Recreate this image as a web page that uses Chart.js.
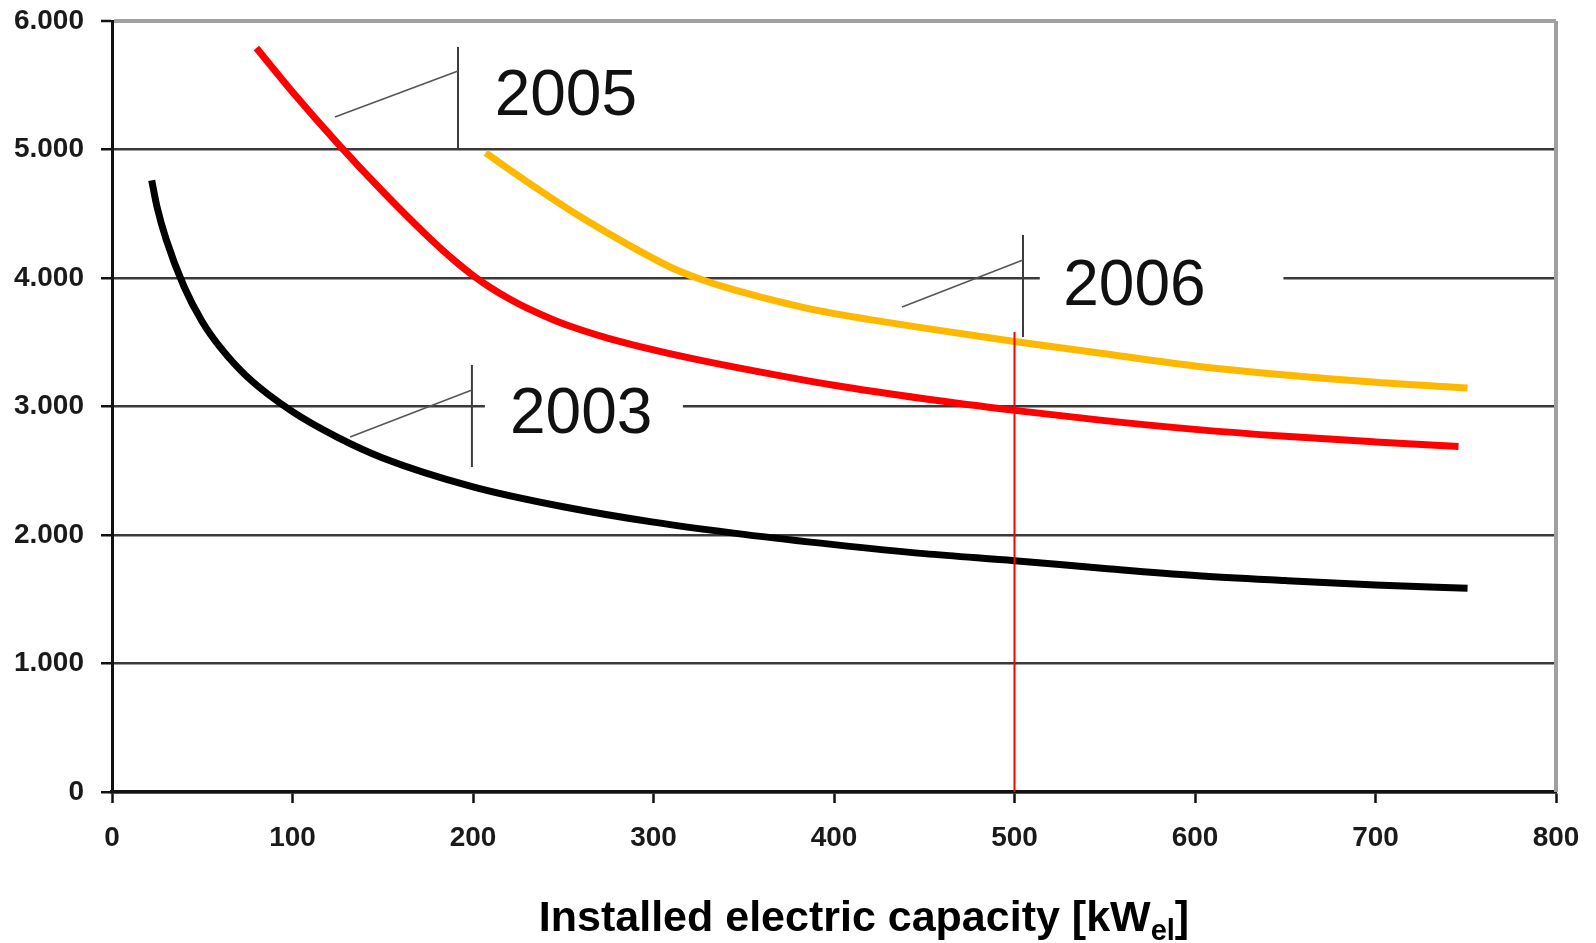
<!DOCTYPE html>
<html>
<head>
<meta charset="utf-8">
<script src="https://cdn.jsdelivr.net/npm/chart.js@4.4.1/dist/chart.umd.min.js"></script>
<style>
  html, body { margin: 0; padding: 0; background: #fff; }
  canvas { display: block; }
</style>
</head>
<body>
<canvas id="chart" width="1596" height="943"></canvas>
<script>
'use strict';

//*****DATA******/

let xTickLabels = ['0', '100', '200', '300', '400', '500', '600', '700', '800'];
let yTickLabels = ['0', '1.000', '2.000', '3.000', '4.000', '5.000', '6.000'];

let capacity2003 = [22, 25, 30, 40, 50, 60, 75, 100, 125, 150, 200, 250, 300, 350, 400, 450, 500, 550, 600, 650, 700, 751];
let cost2003 = [4760, 4550, 4300, 3930, 3660, 3460, 3230, 2960, 2760, 2600, 2375, 2220, 2100, 2005, 1925, 1855, 1800, 1740, 1685, 1645, 1610, 1585];

let capacity2005 = [80, 100, 125, 150, 175, 190, 200, 210, 220, 230, 245, 260, 275, 300, 325, 350, 400, 450, 500, 550, 600, 650, 700, 746];
let cost2005 = [5790, 5448, 5048, 4673, 4323, 4132, 4020, 3922, 3838, 3765, 3672, 3595, 3531, 3441, 3363, 3293, 3165, 3060, 2970, 2890, 2822, 2768, 2724, 2688];

let capacity2006 = [207, 230, 260, 290, 310, 325, 340, 360, 390, 420, 450, 500, 550, 600, 650, 700, 751];
let cost2006 = [4973, 4748, 4472, 4227, 4080, 3996, 3927, 3850, 3750, 3676, 3610, 3506, 3410, 3315, 3245, 3188, 3144];

// year labels with their bracket + leader line (data units)
let yearNotes = [
  { text: '2005', textX: 212, textY: 5409, barX: 191.7, barTop: 5798, barBottom: 5000, lead: [123.5, 5253, 191.7, 5611] },
  { text: '2006', textX: 527, textY: 3930, barX: 504.7, barTop: 4335, barBottom: 3541, lead: [437.7, 3774, 504.7, 4140] },
  { text: '2003', textX: 220.5, textY: 2934, barX: 199.4, barTop: 3323, barBottom: 2529, lead: [131.9, 2763, 199.4, 3128] }
];

// gaps cut out of the grid lines behind the labels
let gridGaps = [
  { y: 4000, from: 514, to: 649 },
  { y: 3000, from: 206.6, to: 316.3 }
];

let markerX = 500;
let markerTop = 3580;

//*****HELPERS******/

function toPoints(xs, ys) {
  let pts = [];
  for (let i = 0; i < xs.length; i++) {
    pts.push({ x: xs[i], y: ys[i] });
  }
  return pts;
}

function makeSeries(label, xs, ys, color) {
  return {
    label: label,
    data: toPoints(xs, ys),
    borderColor: color,
    backgroundColor: color,
    borderWidth: 7,
    pointRadius: 0,
    cubicInterpolationMode: 'monotone',
    fill: false
  };
}

//*****PLUGINS******/

let gapPlugin = {
  id: 'gridGaps',
  beforeDatasetsDraw(chart) {
    let ctx = chart.ctx;
    let xs = chart.scales.x;
    let ys = chart.scales.y;
    ctx.save();
    ctx.strokeStyle = '#ffffff';
    ctx.lineWidth = 6;
    for (let g of gridGaps) {
      let py = ys.getPixelForValue(g.y);
      ctx.beginPath();
      ctx.moveTo(xs.getPixelForValue(g.from), py);
      ctx.lineTo(xs.getPixelForValue(g.to), py);
      ctx.stroke();
    }
    ctx.restore();
  }
};

let notesPlugin = {
  id: 'yearNotes',
  afterDatasetsDraw(chart) {
    let ctx = chart.ctx;
    let xs = chart.scales.x;
    let ys = chart.scales.y;
    let area = chart.chartArea;
    ctx.save();

    // right frame line
    ctx.strokeStyle = '#a0a0a0';
    ctx.lineWidth = 4;
    ctx.beginPath();
    ctx.moveTo(area.right, area.top);
    ctx.lineTo(area.right, area.bottom);
    ctx.stroke();

    for (let n of yearNotes) {
      let bx = xs.getPixelForValue(n.barX);
      ctx.strokeStyle = '#3c3c3c';
      ctx.lineWidth = 2;
      ctx.beginPath();
      ctx.moveTo(bx, ys.getPixelForValue(n.barTop));
      ctx.lineTo(bx, ys.getPixelForValue(n.barBottom));
      ctx.stroke();

      ctx.strokeStyle = '#555555';
      ctx.lineWidth = 1.5;
      ctx.beginPath();
      ctx.moveTo(xs.getPixelForValue(n.lead[0]), ys.getPixelForValue(n.lead[1]));
      ctx.lineTo(xs.getPixelForValue(n.lead[2]), ys.getPixelForValue(n.lead[3]));
      ctx.stroke();

      ctx.fillStyle = '#111111';
      ctx.font = '64px "Liberation Sans", Arial, sans-serif';
      ctx.textAlign = 'left';
      ctx.textBaseline = 'middle';
      ctx.fillText(n.text, xs.getPixelForValue(n.textX), ys.getPixelForValue(n.textY));
    }

    // red marker at 500 kW
    let mx = xs.getPixelForValue(markerX);
    ctx.strokeStyle = '#ff0000';
    ctx.lineWidth = 2;
    ctx.beginPath();
    ctx.moveTo(mx, ys.getPixelForValue(markerTop));
    ctx.lineTo(mx, ys.getPixelForValue(0));
    ctx.stroke();

    ctx.restore();
  },
  afterDraw(chart) {
    // axis title with subscript
    let ctx = chart.ctx;
    let main = 'Installed electric capacity [kW';
    let sub = 'el';
    let tail = ']';
    let bigFont = 'bold 43px "Liberation Sans", Arial, sans-serif';
    let subFont = 'bold 29px "Liberation Sans", Arial, sans-serif';
    ctx.save();
    ctx.fillStyle = '#000000';
    ctx.textBaseline = 'alphabetic';
    ctx.textAlign = 'left';
    ctx.font = bigFont;
    let w1 = ctx.measureText(main).width;
    let w3 = ctx.measureText(tail).width;
    ctx.font = subFont;
    let w2 = ctx.measureText(sub).width;
    let cx = (chart.chartArea.left + chart.chartArea.right) / 2 + 30;
    let x0 = cx - (w1 + w2 + w3) / 2;
    let base = 931;
    ctx.font = bigFont;
    ctx.fillText(main, x0, base);
    ctx.font = subFont;
    ctx.fillText(sub, x0 + w1, base + 9);
    ctx.font = bigFont;
    ctx.fillText(tail, x0 + w1 + w2, base);
    ctx.restore();
  }
};

//*****CHART******/

let canvasElem = document.getElementById('chart');

let chartObj = {
  type: 'line',
  data: {
    datasets: [
      makeSeries('2003', capacity2003, cost2003, '#000000'),
      makeSeries('2005', capacity2005, cost2005, '#ff0000'),
      makeSeries('2006', capacity2006, cost2006, '#ffb800')
    ]
  },
  options: {
    responsive: false,
    animation: false,
    devicePixelRatio: 1,
    layout: {
      padding: { left: 0, right: 40, top: 21, bottom: 51 }
    },
    plugins: {
      legend: { display: false },
      tooltip: { enabled: false },
      title: { display: false }
    },
    scales: {
      x: {
        type: 'linear',
        min: 0,
        max: 800,
        afterFit(scale) {
          scale.height = 100;
          scale.paddingLeft = 0;
          scale.paddingRight = 0;
        },
        ticks: {
          stepSize: 100,
          padding: 18,
          color: '#1a1a1a',
          font: { family: '"Liberation Sans", Arial, sans-serif', size: 28, weight: 'bold' },
          callback: function (value, index) { return xTickLabels[index]; }
        },
        grid: {
          drawOnChartArea: false,
          drawTicks: true,
          tickLength: 11,
          tickColor: '#111111',
          tickWidth: 2.5
        },
        border: { color: '#111111', width: 3.5 }
      },
      y: {
        min: 0,
        max: 6000,
        afterFit(scale) {
          scale.width = 112;
          scale.paddingTop = 0;
          scale.paddingBottom = 0;
        },
        ticks: {
          stepSize: 1000,
          padding: 17,
          color: '#1a1a1a',
          font: { family: '"Liberation Sans", Arial, sans-serif', size: 28, weight: 'bold' },
          callback: function (value, index) { return yTickLabels[index]; }
        },
        grid: {
          color: function (c) { return c.tick && c.tick.value === 6000 ? '#a0a0a0' : '#3a3a3a'; },
          lineWidth: function (c) { return c.tick && c.tick.value === 6000 ? 4 : 2.5; },
          drawTicks: true,
          tickLength: 11,
          tickColor: '#111111',
          tickWidth: 2.5
        },
        border: { color: '#111111', width: 3 }
      }
    }
  },
  plugins: [gapPlugin, notesPlugin]
};

new Chart(canvasElem, chartObj);
</script>
</body>
</html>
